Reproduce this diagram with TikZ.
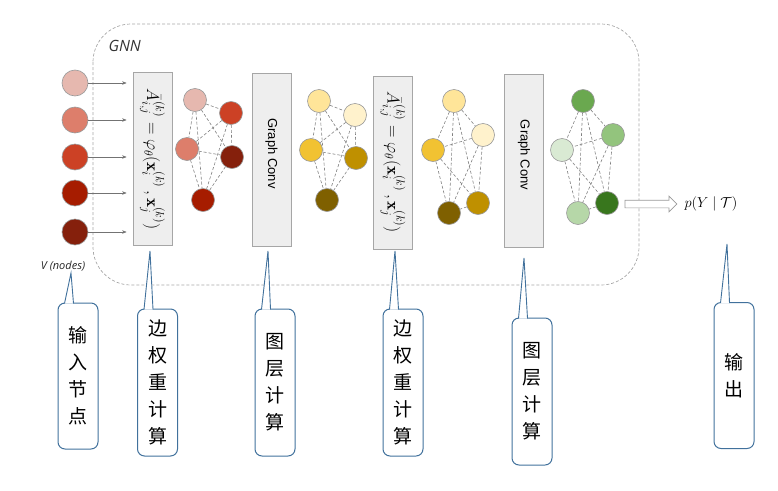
\documentclass[tikz,border=0pt]{standalone}
\usepackage{amsmath,amssymb}
\usepackage{fontspec}
\usepackage{tikz}
\usetikzlibrary{positioning,arrows.meta,shapes.arrows,backgrounds}
\usepackage{xcolor}
\newfontfamily\cjk{Noto Sans CJK SC}
\newfontfamily\labelfont{Open Sans}
\setsansfont{Liberation Sans}
% node colours
\definecolor{pinkpale}{HTML}{E6B8AF}
\definecolor{salmon}{HTML}{DD7E6B}
\definecolor{brickred}{HTML}{CC4125}
\definecolor{darkred}{HTML}{A61C00}
\definecolor{maroon}{HTML}{85200C}
\definecolor{sandpale}{HTML}{FFE599}
\definecolor{creampale}{HTML}{FFF2CC}
\definecolor{gold}{HTML}{F1C232}
\definecolor{ochre}{HTML}{BF9000}
\definecolor{olivebrown}{HTML}{7F6000}
\definecolor{leafmid}{HTML}{6AA84F}
\definecolor{leaflight}{HTML}{93C47D}
\definecolor{mintpale}{HTML}{D9EAD3}
\definecolor{leafdark}{HTML}{38761D}
\definecolor{sage}{HTML}{B6D7A8}
\definecolor{boxgray}{HTML}{EEEEEE}
\definecolor{callblue}{RGB}{65,113,156}

\begin{document}
\begin{tikzpicture}[x=1pt,y=-1pt,
  vtx/.style={circle,draw=gray!80,line width=0.6pt,minimum size=23pt,inner sep=0pt},
  blk/.style={rectangle,draw=gray!70,fill=boxgray,line width=0.8pt,
    minimum width=39pt,minimum height=173pt,inner sep=0pt},
  link/.style={gray,line width=0.6pt,dash pattern=on 3pt off 2pt},
  inarr/.style={-{Stealth[length=4.5pt,width=3.5pt]},gray!90!black,line width=0.5pt},
  note/.style={rectangle,rounded corners=7pt,draw=callblue,line width=1pt,
    minimum width=40pt,minimum height=146pt,inner sep=0pt,align=center,
    font=\cjk\fontsize{19}{27}\selectfont},
  ptr/.style={draw=callblue,fill=white,line width=0.9pt}
]
\useasboundingbox (0,0) rectangle (778,490);

% GNN frame
\draw[gray!70,line width=0.7pt,dash pattern=on 3pt off 2pt,rounded corners=38pt]
  (93,24) rectangle (639,285);
\node[anchor=west,font=\labelfont\itshape\fontsize{15.5}{17}\selectfont,text=black!80] (gnn) at (105,46) {GNN};

% input nodes
\node[vtx,minimum size=26pt,fill=pinkpale] (v1) at (75,83) {};
\node[vtx,minimum size=26pt,fill=salmon] (v2) at (75,120) {};
\node[vtx,minimum size=26pt,fill=brickred] (v3) at (75,157) {};
\node[vtx,minimum size=26pt,fill=darkred] (v4) at (75,193) {};
\node[vtx,minimum size=26pt,fill=maroon] (v5) at (75,232) {};
\node[font=\labelfont\itshape\fontsize{11}{13}\selectfont,text=black!85] (vlab) at (63,266) {V (nodes)};

% layer blocks
\node[blk] (ew1) at (152.5,159) {};
\node[rotate=-90,font=\fontsize{17}{19}\selectfont] (ew1txt) at (ew1.center)
  {$\bar{A}_{i,j}^{(k)} = \varphi_{\theta}(\mathbf{x}_i^{(k)}\,,\mathbf{x}_j^{(k)})$};
\node[blk] (gc1) at (271.5,159.5) {};
\node[rotate=-90,font=\sffamily\fontsize{13}{15}\selectfont] (gc1txt) at ([yshift=6pt]gc1.center) {Graph Conv};
\node[blk] (ew2) at (393,162.5) {};
\node[rotate=-90,font=\fontsize{17}{19}\selectfont] (ew2txt) at (ew2.center)
  {$\bar{A}_{i,j}^{(k)} = \varphi_{\theta}(\mathbf{x}_i^{(k)}\,,\mathbf{x}_j^{(k)})$};
\node[blk] (gc2) at (524,161) {};
\node[rotate=-90,font=\sffamily\fontsize{13}{15}\selectfont] (gc2txt) at ([yshift=6pt]gc2.center) {Graph Conv};

\foreach \i in {1,...,5}
  \draw[inarr,shorten >=6pt] (v\i) -- (v\i -| ew1.west);

% graph after edge weighting
\node[vtx,fill=pinkpale] (ra) at (195,100) {};
\node[vtx,fill=brickred] (rb) at (231,113) {};
\node[vtx,fill=salmon] (rc) at (187,149) {};
\node[vtx,fill=maroon] (rd) at (232,157) {};
\node[vtx,fill=darkred] (re) at (203,200) {};
% graph after first conv
\node[vtx,fill=sandpale] (ya) at (319,101) {};
\node[vtx,fill=creampale] (yb) at (355,115) {};
\node[vtx,fill=gold] (yc) at (311,150) {};
\node[vtx,fill=ochre] (yd) at (356,158) {};
\node[vtx,fill=olivebrown] (ye) at (327,200) {};
% graph after second weighting
\node[vtx,fill=sandpale] (wa) at (454,101) {};
\node[vtx,fill=creampale] (wb) at (483,135) {};
\node[vtx,fill=gold] (wc) at (433,150) {};
\node[vtx,fill=ochre] (wd) at (478,203) {};
\node[vtx,fill=olivebrown] (we) at (449,213) {};
% graph after second conv
\node[vtx,fill=leafmid] (ga) at (583,101) {};
\node[vtx,fill=leaflight] (gb) at (613,135) {};
\node[vtx,fill=mintpale] (gc) at (562,150) {};
\node[vtx,fill=leafdark] (gd) at (607,203) {};
\node[vtx,fill=sage] (ge) at (578,213) {};

\begin{pgfonlayer}{background}
\foreach \g in {r,y,w,g}
  \foreach \u/\w in {a/b,a/c,a/d,a/e,b/c,b/d,b/e,c/d,c/e,d/e}
    \draw[link] (\g\u) -- (\g\w);
\end{pgfonlayer}

% output
\node[single arrow,draw=gray!80,fill=white,line width=0.7pt,inner sep=3.5pt,
  minimum height=52pt,single arrow head extend=4pt] (outarr) at (649,204) {};
\node[anchor=west,font=\fontsize{15}{18}\selectfont] (py) at (681,204) {$p(Y \mid \mathcal{T})$};

% callouts
\node[note] (c1) at (78,376) {输\\入\\节\\点};
\node[note,minimum height=147pt] (c2) at (157.5,382.5) {边\\权\\重\\计\\算};
\node[note,minimum height=147pt] (c3) at (275,382.5) {图\\层\\计\\算};
\node[note,minimum height=147pt] (c4) at (403,382.5) {边\\权\\重\\计\\算};
\node[note,minimum height=147pt] (c5) at (532,391.5) {图\\层\\计\\算};
\node[note] (c6) at (734,375.5) {输\\出};

\coordinate (t1) at (71,273);
\coordinate (t2) at (150,251);
\coordinate (t3) at (268,251);
\coordinate (t4) at (395,251);
\coordinate (t5) at (524,258);
\coordinate (t6) at (727,244);
\foreach \i in {1,...,6}
  \filldraw[ptr] ([xshift=7pt,yshift=-1pt]c\i.north west) -- (t\i)
    -- ([xshift=16pt,yshift=-1pt]c\i.north west);
\end{tikzpicture}
\end{document}
